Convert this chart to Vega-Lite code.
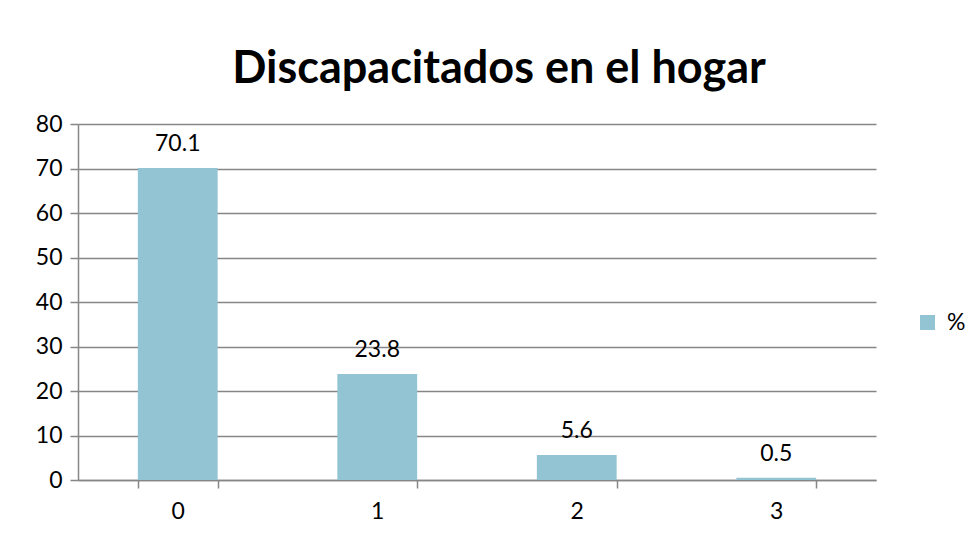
{
  "$schema": "https://vega.github.io/schema/vega-lite/v6.json",
  "width": 798,
  "height": 356,
  "autosize": {"type": "none"},
  "padding": {"left": 78, "top": 124, "right": 96, "bottom": 63},
  "background": "white",
  "title": {
    "text": "Discapacitados en el hogar",
    "font": "Lato",
    "fontSize": 45,
    "fontWeight": "bold",
    "color": "black",
    "anchor": "middle",
    "offset": 21,
    "dx": 22
  },
  "data": {
    "values": [
      {"cat": "0", "val": 70.1, "series": "%"},
      {"cat": "1", "val": 23.8, "series": "%"},
      {"cat": "2", "val": 5.6, "series": "%"},
      {"cat": "3", "val": 0.5, "series": "%"}
    ]
  },
  "config": {
    "view": {"stroke": null},
    "font": "Lato"
  },
  "encoding": {
    "x": {
      "field": "cat",
      "type": "nominal",
      "sort": null,
      "title": null,
      "scale": {"paddingInner": 0.6, "paddingOuter": 0.3},
      "axis": {
        "labelAngle": 0,
        "labelFont": "Lato",
        "labelFontSize": 23,
        "labelColor": "black",
        "labelPadding": 12,
        "tickBand": "extent",
        "tickSize": 8,
        "tickColor": "#868686",
        "domainColor": "#868686",
        "tickWidth": 1.5,
        "domainWidth": 1.5,
        "grid": false
      }
    },
    "y": {
      "field": "val",
      "type": "quantitative",
      "title": null,
      "scale": {"domain": [0, 80]},
      "axis": {
        "values": [0, 10, 20, 30, 40, 50, 60, 70, 80],
        "labelFont": "Lato",
        "labelFontSize": 23,
        "labelColor": "black",
        "labelPadding": 8,
        "tickSize": 8,
        "tickColor": "#868686",
        "domainColor": "#868686",
        "gridColor": "#868686",
        "tickWidth": 1.5,
        "domainWidth": 1.5,
        "gridWidth": 1.5
      }
    }
  },
  "layer": [
    {
      "mark": {"type": "bar"},
      "encoding": {
        "color": {
          "field": "series",
          "type": "nominal",
          "scale": {"range": ["#93C4D3"]},
          "legend": {
            "title": null,
            "orient": "none",
            "legendX": 838,
            "legendY": 187,
            "symbolType": "square",
            "symbolSize": 225,
            "symbolStrokeWidth": 0,
            "labelFont": "Lato",
            "labelFontSize": 23,
            "labelColor": "black",
            "labelOffset": 8,
            "padding": 0
          }
        }
      }
    },
    {
      "mark": {"type": "text", "baseline": "alphabetic", "dy": -17, "fontSize": 23, "font": "Lato", "color": "black"},
      "encoding": {
        "text": {"field": "val", "type": "quantitative", "format": ".1f"}
      }
    }
  ]
}
